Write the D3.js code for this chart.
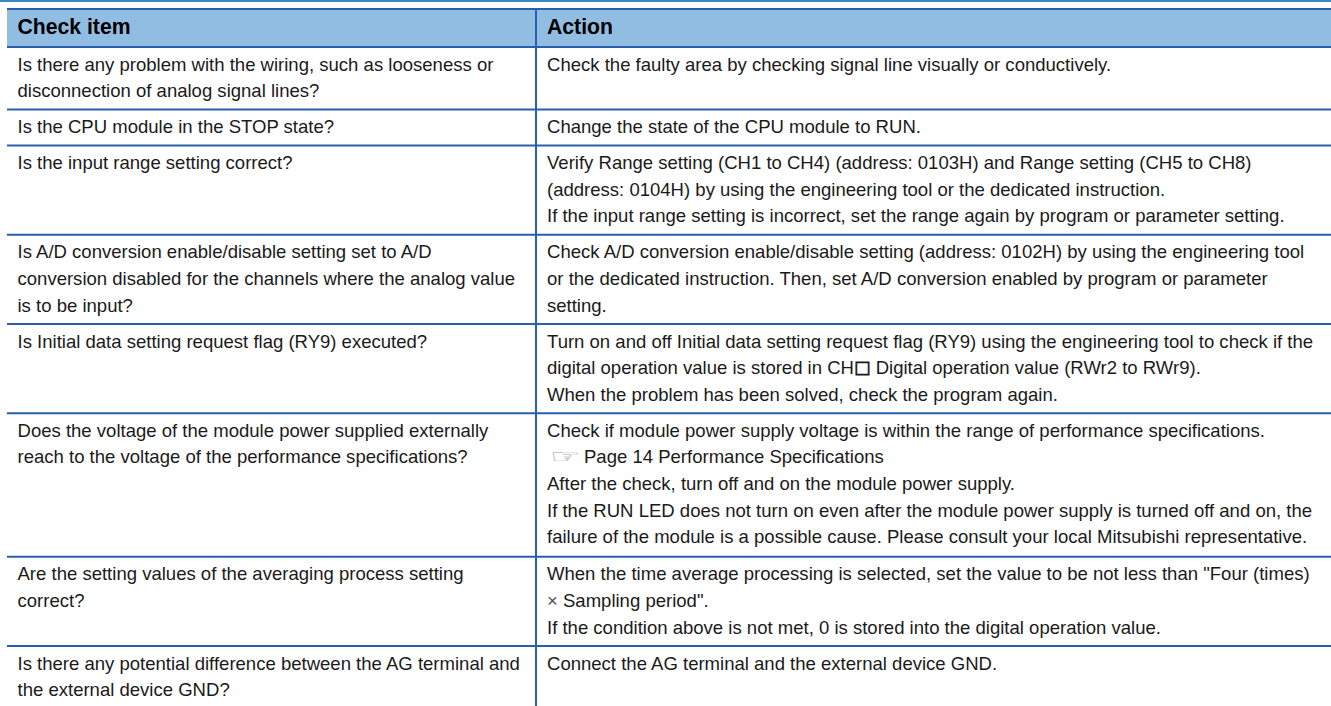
<!DOCTYPE html>
<html><head><meta charset="utf-8">
<script src="https://cdn.jsdelivr.net/npm/d3@7"></script>
<style>html,body{margin:0;padding:0;background:#fff;overflow:hidden}svg{display:block}
text{font-family:"Liberation Sans",Arial,sans-serif;font-size:18.55px;fill:#1a1a1a}
.h{font-weight:bold;fill:#000;font-size:21.2px}</style></head><body>
<script>
const headers = ["Check item","Action"];
const checkItems = [
 ["Is there any problem with the wiring, such as looseness or","disconnection of analog signal lines?"],
 ["Is the CPU module in the STOP state?"],
 ["Is the input range setting correct?"],
 ["Is A/D conversion enable/disable setting set to A/D","conversion disabled for the channels where the analog value","is to be input?"],
 ["Is Initial data setting request flag (RY9) executed?"],
 ["Does the voltage of the module power supplied externally","reach to the voltage of the performance specifications?"],
 ["Are the setting values of the averaging process setting","correct?"],
 ["Is there any potential difference between the AG terminal and","the external device GND?"]
];
const actions = [
 ["Check the faulty area by checking signal line visually or conductively."],
 ["Change the state of the CPU module to RUN."],
 ["Verify Range setting (CH1 to CH4) (address: 0103H) and Range setting (CH5 to CH8)","(address: 0104H) by using the engineering tool or the dedicated instruction.","If the input range setting is incorrect, set the range again by program or parameter setting."],
 ["Check A/D conversion enable/disable setting (address: 0102H) by using the engineering tool","or the dedicated instruction. Then, set A/D conversion enabled by program or parameter","setting."],
 ["Turn on and off Initial data setting request flag (RY9) using the engineering tool to check if the","digital operation value is stored in CH\u25A1 Digital operation value (RWr2 to RWr9).","When the problem has been solved, check the program again."],
 ["Check if module power supply voltage is within the range of performance specifications.","\u261E Page 14 Performance Specifications","After the check, turn off and on the module power supply.","If the RUN LED does not turn on even after the module power supply is turned off and on, the","failure of the module is a possible cause. Please consult your local Mitsubishi representative."],
 ["When the time average processing is selected, set the value to be not less than \"Four (times)","\u00D7 Sampling period\".","If the condition above is not met, 0 is stored into the digital operation value."],
 ["Connect the AG terminal and the external device GND."]
];
const W=1331,H=706,lineH=26.6,pad=9.4,left=7,split=536,tx=[17.5,547];
const headTop=9,headBottom=47,blue="#2b5fad";
const svg=d3.select("body").append("svg").attr("width",W).attr("height",H);
const rows=d3.range(checkItems.length).map(i=>{
  const n=Math.max(checkItems[i].length,actions[i].length);
  const icon=actions[i].some(l=>l.includes("\u261E"))?1.2:0;
  return {i,h:n*lineH+pad+icon,left:checkItems[i],right:actions[i]};
});
const bottoms=Array.from(d3.cumsum(rows,d=>d.h),v=>v+headBottom);
rows.forEach((r,i)=>{r.top=i?bottoms[i-1]:headBottom;r.bottom=bottoms[i];});
const x=d3.scaleLinear().domain([0,1]).range([left,W]);
svg.append("rect").attr("x",0).attr("y",0).attr("width",W).attr("height",2).attr("fill","#3a88bf");
svg.append("rect").attr("x",x(0)).attr("y",headTop).attr("width",x(1)-x(0)).attr("height",headBottom-headTop).attr("fill","#92bde3");
const hl=[headTop,headBottom,...bottoms.slice(0,-1)];
svg.selectAll("line.hl").data(hl).join("line").attr("class","hl")
  .attr("x1",x(0)).attr("x2",x(1)).attr("y1",d=>d).attr("y2",d=>d).attr("stroke",blue).attr("stroke-width",2);
svg.append("line").attr("x1",split).attr("x2",split).attr("y1",headTop).attr("y2",H).attr("stroke",blue).attr("stroke-width",2);
svg.selectAll("text.h").data(headers).join("text").attr("class","h").attr("x",(d,i)=>tx[i]).attr("y",33.5).text(d=>d);
const drawCol=(key,col)=>{
  const g=svg.append("g");
  rows.forEach(r=>{
    let y=r.top+23.5;
    r[key].forEach(l=>{
      const t=g.append("text").attr("x",tx[col]).attr("y",y);
      if(l.includes("\u261E")){
        g.append("text").attr("transform",`translate(${tx[col]+3},${y}) scale(1.27,0.72)`)
          .attr("style","font-family:'DejaVu Sans';fill:#a0a0a0;font-size:27px").text("\u261E");
        t.attr("x",584).text(l.slice(2));
      } else if(l.startsWith("\u00D7")){
        t.append("tspan").attr("style","fill:#555").text("\u00D7");
        t.append("tspan").text(l.slice(1));
      } else if(l.includes("\u25A1")){
        const p=l.split("\u25A1");
        t.append("tspan").text(p[0]);
        t.append("tspan").attr("dy",-1).attr("style","font-family:'DejaVu Sans';font-size:17.5px;stroke:#1a1a1a;stroke-width:.7").text("\u25A1");
        t.append("tspan").attr("dy",1).text(p[1]);
      } else t.text(l);
      y+=lineH;
    });
  });
};
drawCol("left",0);drawCol("right",1);
</script></body></html>
